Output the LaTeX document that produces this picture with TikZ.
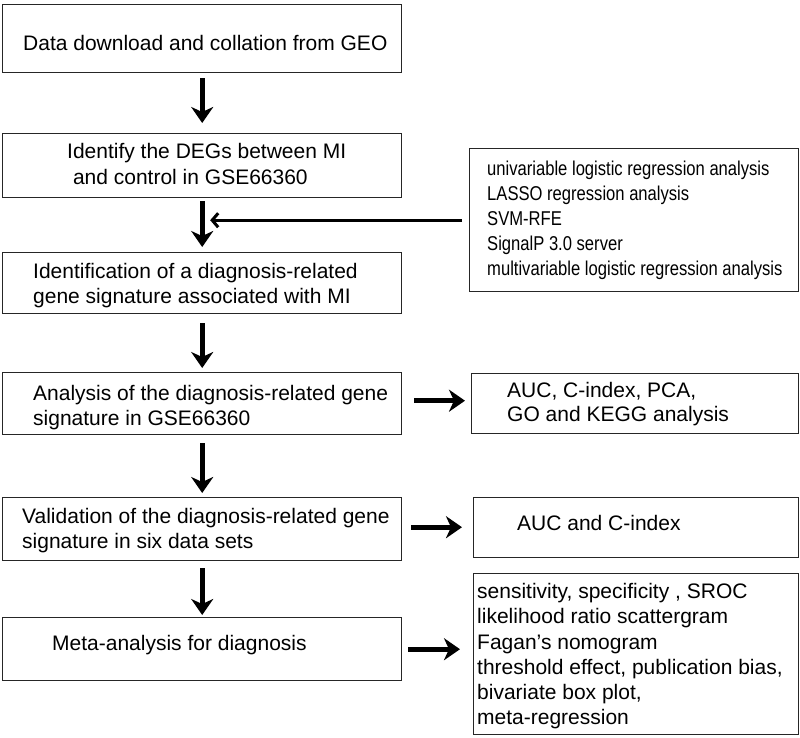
\documentclass[tikz,border=0pt]{standalone}
\usepackage{fontspec}
\setmainfont{Liberation Sans}
\newfontfamily\narrowfont{Liberation Sans}[FakeStretch=0.83]
\usetikzlibrary{arrows.meta,calc}
\begin{document}
\begin{tikzpicture}[x=1pt,y=-1pt,
  box/.style={draw=black!85, line width=1.4pt, rectangle, anchor=north west, inner sep=0pt},
  txt/.style={anchor=west, inner sep=0pt, align=left, font=\fontsize{21pt}{25pt}\selectfont},
  bigarrow/.style={line width=5pt, -{Stealth[length=16pt,width=22pt,inset=5pt]}},
  thinarrow/.style={line width=3pt, -{Straight Barb[length=6pt,width=14pt]}}]
\useasboundingbox (0,0) rectangle (800,737);
% left column boxes
\node[box, minimum width=399pt, minimum height=68pt] (b1) at (2,4) {};
\node[box, minimum width=399pt, minimum height=64pt] (b2) at (2,133) {};
\node[box, minimum width=399pt, minimum height=61pt] (b3) at (2,252) {};
\node[box, minimum width=399pt, minimum height=62pt] (b4) at (2,372) {};
\node[box, minimum width=399pt, minimum height=63pt] (b5) at (2,497) {};
\node[box, minimum width=399pt, minimum height=63pt] (b6) at (2,617) {};
% right column boxes
\node[box, minimum width=329pt, minimum height=143pt] (r1) at (469,148) {};
\node[box, minimum width=327pt, minimum height=60pt] (r2) at (471,373) {};
\node[box, minimum width=325pt, minimum height=60pt] (r3) at (473,497) {};
\node[box, minimum width=325pt, minimum height=161pt] (r4) at (473,573) {};
% texts
\node[txt] (t1) at ([xshift=21pt,yshift=-4pt]b1.west) {Data download and collation from GEO};
\node[txt, font=\fontsize{21pt}{26pt}\selectfont] (t2) at ([xshift=65pt,yshift=2pt]b2.west)
  {Identify the DEGs between MI\\\hspace*{0.278em}and control in GSE66360};
\node[txt] (t3) at ([xshift=31pt,yshift=-2.5pt]b3.west)
  {Identification of a diagnosis-related\\gene signature associated with MI};
\node[txt] (t4) at ([xshift=31pt,yshift=-4pt]b4.west)
  {Analysis of the diagnosis-related gene\\signature in GSE66360};
\node[txt] (t5) at ([xshift=20pt,yshift=-1.5pt]b5.west)
  {Validation of the diagnosis-related gene\\signature in six data sets};
\node[txt] (t6) at ([xshift=50pt,yshift=4pt]b6.west) {Meta-analysis for diagnosis};
\node[txt, font=\narrowfont\fontsize{20pt}{25pt}\selectfont] (s1) at ([xshift=18pt]r1.west)
  {univariable logistic regression analysis\\LASSO regression analysis\\SVM-RFE\\SignalP 3.0 server\\multivariable logistic regression analysis};
\node[txt, font=\fontsize{21pt}{24pt}\selectfont] (s2) at ([xshift=36pt]r2.west)
  {AUC, C-index, PCA,\\GO and KEGG analysis};
\node[txt] (s3) at ([xshift=44pt,yshift=5pt]r3.west) {AUC and C-index};
\node[txt, font=\fontsize{21pt}{25.2pt}\selectfont] (s4) at ([xshift=4pt,yshift=-2pt]r4.west)
  {sensitivity, specificity , SROC\\likelihood ratio scattergram\\Fagan’s nomogram\\threshold effect, publication bias,\\bivariate box plot,\\meta-regression};
% vertical arrows
\draw[bigarrow, shorten <=5pt, shorten >=10pt] (b1.south) -- (b2.north);
\draw[bigarrow, shorten <=3pt, shorten >=5pt] (b2.south) -- (b3.north);
\draw[bigarrow, shorten <=9pt, shorten >=4pt] (b3.south) -- (b4.north);
\draw[bigarrow, shorten <=8pt, shorten >=4pt] (b4.south) -- (b5.north);
\draw[bigarrow, shorten <=7pt, shorten >=2pt] (b5.south) -- (b6.north);
% horizontal arrows
\draw[bigarrow, shorten <=12pt, shorten >=6pt] ([yshift=3pt]b4.east) -- ([yshift=3pt]b4.east -| r2.west);
\draw[bigarrow, shorten <=9pt, shorten >=11pt] ([yshift=2pt]b5.east) -- ([yshift=2pt]b5.east -| r3.west);
\draw[bigarrow, shorten <=6pt, shorten >=13pt] (b6.east) -- (b6.east -| r4.west);
% thin arrow into the second connector
\draw[thinarrow, shorten <=7pt, shorten >=8pt] (r1.west) -- (r1.west -| b2.south);
\end{tikzpicture}
\end{document}
